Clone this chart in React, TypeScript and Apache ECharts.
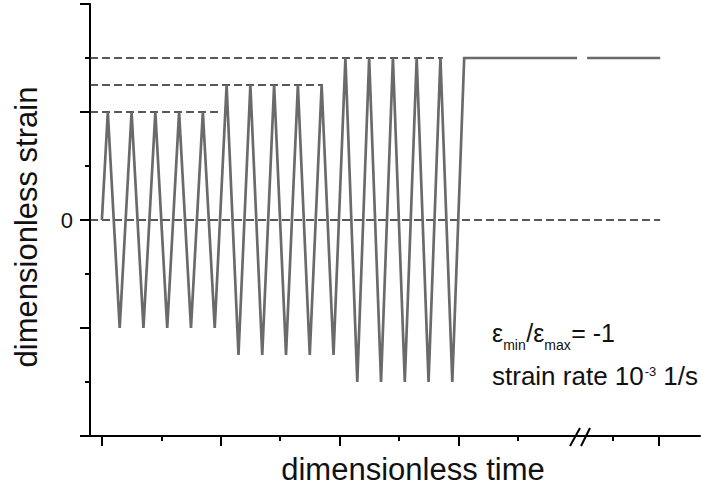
import React, { useEffect, useRef } from "react";
import * as echarts from "echarts";

// quarter-cycle time units
const timeA = [0, 1, 3, 5, 7, 9, 11, 13, 15, 17, 19, 21, 23, 25, 27, 29, 31, 33, 35, 37, 39, 41, 43, 45, 47, 49, 51, 53, 55, 57, 59, 61, 80.0];
const strainA = [0, 2, -2, 2, -2, 2, -2, 2, -2, 2, -2, 2.5, -2.5, 2.5, -2.5, 2.5, -2.5, 2.5, -2.5, 2.5, -2.5, 3, -3, 3, -3, 3, -3, 3, -3, 3, -3, 3, 3];
const timeB = [81.7, 94.0];
const strainB = [3, 3];

const refLevels = [3, 2.5, 2, 0];
const refEnds = [57.4, 37.2, 20.2, 94.0];

const majorTicksX = [0, 20, 40, 60, 93.8];
const minorTicksX = [10, 30, 50, 70, 86.0];
const breakAt = 80.5;

const X_MIN = -2;
const X_MAX = 100.7;

const FONT = "'Liberation Sans', Arial, sans-serif";

function measure(text: string, size: number): number {
  const c = document.createElement("canvas").getContext("2d");
  if (!c) return text.length * size * 0.5;
  c.font = `${size}px 'Liberation Sans', Arial, sans-serif`;
  return c.measureText(text).width;
}

export default function App() {
  const ref = useRef<HTMLDivElement>(null);

  useEffect(() => {
    if (!ref.current) return;
    const chart = echarts.init(ref.current, null, { renderer: "svg" });

    const refSeries = refLevels.map((lvl, i) => ({
      type: "line",
      data: [
        [X_MIN, lvl],
        [refEnds[i], lvl],
      ],
      symbol: "none",
      silent: true,
      z: 1,
      lineStyle: { color: "#222", width: 1.3, type: [8, 4] },
    }));

    const option: any = {
      animation: false,
      backgroundColor: "#fff",
      grid: { left: 90, right: 1, top: 4, bottom: 57 },
      xAxis: [
        {
          type: "value",
          min: X_MIN,
          max: X_MAX,
          position: "bottom",
          name: "dimensionless time",
          nameLocation: "middle",
          nameGap: 18,
          nameTextStyle: {
            fontFamily: FONT,
            fontSize: 31,
            color: "#111",
            padding: [0, 0, 0, 36],
          },
          axisLine: { show: true, onZero: false, lineStyle: { color: "#000", width: 2 } },
          axisTick: {
            show: true,
            customValues: majorTicksX,
            length: 10,
            lineStyle: { color: "#000", width: 2 },
          },
          axisLabel: { show: false },
          splitLine: { show: false },
        },
        {
          type: "value",
          min: X_MIN,
          max: X_MAX,
          position: "bottom",
          axisLine: { show: false, onZero: false },
          axisTick: {
            show: true,
            customValues: minorTicksX,
            length: 5,
            lineStyle: { color: "#000", width: 2 },
          },
          axisLabel: { show: false },
          splitLine: { show: false },
        },
      ],
      yAxis: {
        type: "value",
        min: -4,
        max: 4,
        interval: 2,
        name: "dimensionless strain",
        nameLocation: "middle",
        nameGap: 48,
        nameTextStyle: {
          fontFamily: FONT,
          fontSize: 31,
          color: "#111",
          padding: [0, 14, 0, 0],
        },
        axisLine: { show: true, onZero: false, lineStyle: { color: "#000", width: 2 } },
        axisTick: { show: true, length: 10, lineStyle: { color: "#000", width: 2 } },
        minorTick: { show: true, splitNumber: 2, length: 5, lineStyle: { color: "#000", width: 2 } },
        axisLabel: {
          margin: 17,
          fontFamily: FONT,
          fontSize: 22,
          color: "#111",
          formatter: (v: number) => (v === 0 ? "0" : ""),
        },
        splitLine: { show: false },
        minorSplitLine: { show: false },
      },
      series: [
        ...refSeries,
        {
          type: "line",
          data: timeA.map((t, i) => [t, strainA[i]]),
          symbol: "none",
          z: 3,
          lineStyle: { color: "#6a6a6a", width: 2.7, join: "miter" },
        },
        {
          type: "line",
          data: timeB.map((t, i) => [t, strainB[i]]),
          symbol: "none",
          z: 3,
          lineStyle: { color: "#6a6a6a", width: 2.7 },
        },
      ],
    };
    chart.setOption(option);

    const bx = chart.convertToPixel({ xAxisIndex: 0 }, breakAt) as number;
    const by = chart.convertToPixel({ yAxisIndex: 0 }, -4) as number;

    const txt = (text: string, x: number, y: number, size: number) => ({
      type: "text",
      x,
      y,
      style: {
        text,
        fontFamily: FONT,
        fontSize: size,
        fill: "#111",
        align: "left",
        verticalAlign: "middle",
      },
    });

    // line 1 chained pieces
    const big = 25;
    const sub = 14;
    const sup = 13;
    const l1: any[] = [];
    let x = 492;
    const pieces1: [string, boolean][] = [
      ["ε", false],
      ["min", true],
      ["/ε", false],
      ["max", true],
      ["= -1", false],
    ];
    pieces1.forEach(([t, isSub]) => {
      const s = isSub ? sub : big;
      l1.push(txt(t, x, isSub ? 345 : 333, s));
      x += measure(t, s) + (isSub ? 0.5 : 0);
    });

    const big2 = 26;
    const main2 = "strain rate 10";
    const w2 = measure(main2, big2);
    const l2 = [
      txt(main2, 492, 376, big2),
      txt("-3", 492 + w2 + 1, 371, sup),
      txt("1/s", 492 + w2 + measure("-3", sup) + 8, 376, big2),
    ];

    chart.setOption({
      graphic: [
        {
          type: "line",
          shape: { x1: bx - 10, y1: by + 10, x2: bx, y2: by - 8 },
          style: { stroke: "#000", lineWidth: 2 },
        },
        {
          type: "line",
          shape: { x1: bx + 1, y1: by + 10, x2: bx + 10, y2: by - 8 },
          style: { stroke: "#000", lineWidth: 2 },
        },
        ...l1,
        ...l2,
      ],
    });

    return () => chart.dispose();
  }, []);

  return (
    <div
      ref={ref}
      style={{ position: "absolute", left: 0, top: 0, width: 701, height: 493 }}
    />
  );
}
